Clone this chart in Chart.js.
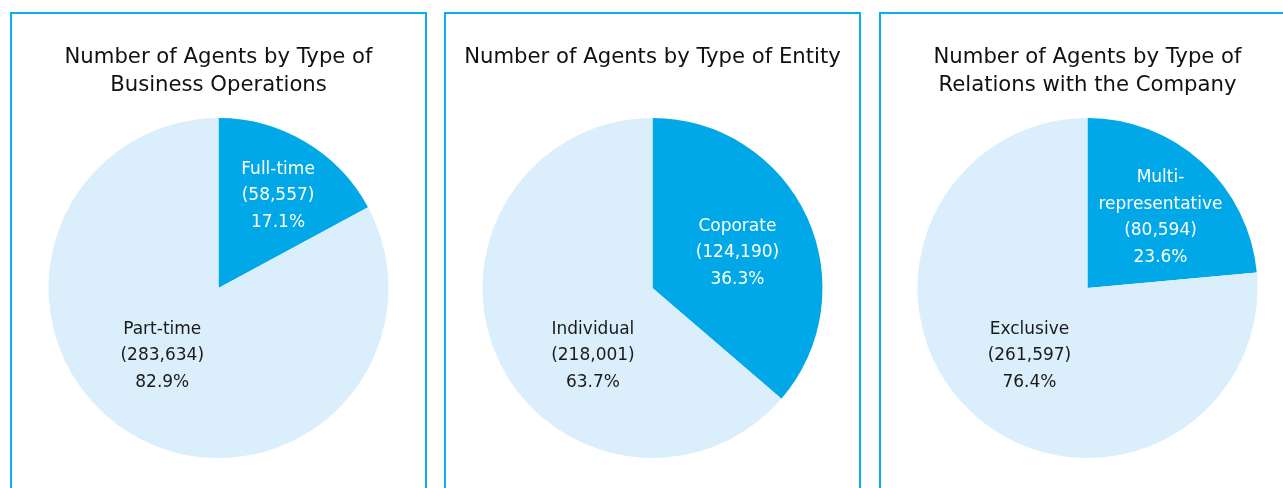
<!DOCTYPE html>
<html>
<head>
<meta charset="utf-8">
<script src="https://cdn.jsdelivr.net/npm/chart.js@4.4.1/dist/chart.umd.min.js"></script>
<style>
  html, body { margin: 0; padding: 0; background: #fff; overflow: hidden; }
  body { width: 1283px; height: 488px; position: relative; }
  .panel {
    position: absolute;
    top: 12px;
    width: 413px;
    height: 500px;
    border: 2px solid #08b0ee;
    box-sizing: content-box;
  }
  .panel canvas { display: block; }
</style>
</head>
<body>
<div class="panel" style="left:10px"><canvas id="opsChart" width="413" height="474"></canvas></div>
<div class="panel" style="left:444px"><canvas id="entityChart" width="413" height="474"></canvas></div>
<div class="panel" style="left:879px"><canvas id="relationChart" width="413" height="474"></canvas></div>

<script>
// Number of agents, three breakdowns
const opsTitle = ['Number of Agents by Type of', 'Business Operations'];
const opsLabels = ['Full-time', 'Part-time'];
const opsValues = [58557, 283634];

const entityTitle = ['Number of Agents by Type of Entity'];
const entityLabels = ['Coporate', 'Individual'];
const entityValues = [124190, 218001];

const relationTitle = ['Number of Agents by Type of', 'Relations with the Company'];
const relationLabels = [['Multi-', 'representative'], 'Exclusive'];
const relationValues = [80594, 261597];

const DARK = '#00a8e8';
const LIGHT = '#dbeefb';
const FONT = "'DejaVu Sans', 'Open Sans', sans-serif";
const TITLE_SIZE = 21.2;
const TITLE_LINE = 27.5;

// writes "Name / (count) / pct%" inside each slice
const sliceLabels = {
  id: 'sliceLabels',
  afterDatasetsDraw(chart, args, opts) {
    const ctx = chart.ctx;
    const ds = chart.data.datasets[0];
    const total = ds.data.reduce((a, b) => a + b, 0);
    const arcs = chart.getDatasetMeta(0).data;
    ctx.save();
    ctx.font = '17px ' + FONT;
    ctx.textAlign = 'center';
    ctx.textBaseline = 'middle';
    arcs.forEach((arc, i) => {
      // spot = [degrees clockwise from 12 o'clock, fraction of radius]
      const spot = opts.spots[i];
      const ang = spot[0] * Math.PI / 180;
      const r = arc.outerRadius * spot[1];
      const cx = arc.x + Math.sin(ang) * r;
      const cy = arc.y - Math.cos(ang) * r;
      const name = chart.data.labels[i];
      const lines = [].concat(name);
      lines.push('(' + ds.data[i].toLocaleString('en-US') + ')');
      lines.push((ds.data[i] / total * 100).toFixed(1) + '%');
      const lh = 26.5;
      const top = cy - (lines.length - 1) * lh / 2;
      ctx.fillStyle = opts.colors[i];
      lines.forEach((t, k) => ctx.fillText(t, cx, top + k * lh));
    });
    ctx.restore();
  }
};

function makePie(id, title, labels, values, spots) {
  // keep the pie area at the same height whatever the title line count
  const padTop = 30;
  const padBottom = 104 - padTop - title.length * TITLE_LINE;
  new Chart(document.getElementById(id), {
    type: 'pie',
    data: {
      labels: labels,
      datasets: [{
        data: values,
        backgroundColor: [DARK, LIGHT],
        borderWidth: 0,
        hoverOffset: 0,
        offset: 0
      }]
    },
    options: {
      responsive: false,
      animation: false,
      events: [],
      layout: { padding: { top: 0, bottom: 30, left: 0, right: 0 } },
      plugins: {
        legend: { display: false },
        tooltip: { enabled: false },
        title: {
          display: true,
          text: title,
          color: '#111',
          font: { family: FONT, size: TITLE_SIZE, weight: 'normal', lineHeight: TITLE_LINE / TITLE_SIZE },
          padding: { top: padTop, bottom: padBottom }
        },
        sliceLabels: { spots: spots, colors: ['#ffffff', '#1a1a1a'] }
      }
    },
    plugins: [sliceLabels]
  });
}

makePie('opsChart', opsTitle, opsLabels, opsValues, [[32.9, 0.645], [219.7, 0.518]]);
makePie('entityChart', entityTitle, entityLabels, entityValues, [[67.4, 0.541], [221.2, 0.532]]);
makePie('relationChart', relationTitle, relationLabels, relationValues, [[46, 0.597], [220.5, 0.526]]);
</script>
</body>
</html>
